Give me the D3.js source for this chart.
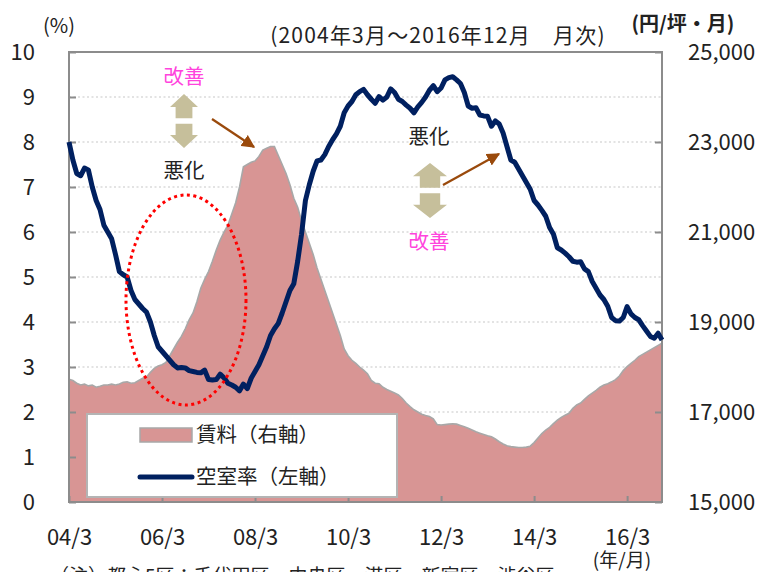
<!DOCTYPE html>
<html>
<head>
<meta charset="utf-8">
<script src="https://cdn.jsdelivr.net/npm/d3@7"></script>
<style>
  body { margin: 0; background: #fff; }
  text { font-family: "Noto Sans CJK JP", "Noto Sans", sans-serif; fill: #222; }
</style>
</head>
<body>
<div id="chart"></div>
<script>
// monthly, 2004/3 .. 2016/12 (index 0 = 2004/3)
const vacancy = [
  8.0, 7.6, 7.3, 7.25, 7.42, 7.38, 7.0, 6.7, 6.5, 6.15, 6.0, 5.85,
  5.5, 5.12, 5.05, 5.0, 4.7, 4.5, 4.4, 4.3, 4.22, 4.0, 3.7, 3.45,
  3.35, 3.25, 3.15, 3.05, 2.98, 2.99, 2.98, 2.92, 2.9, 2.88, 2.87, 2.93,
  2.72, 2.71, 2.72, 2.84, 2.76, 2.64, 2.6, 2.55, 2.47, 2.62, 2.52, 2.75,
  2.9, 3.05, 3.25, 3.45, 3.7, 3.85, 3.97, 4.2, 4.45, 4.7, 4.85, 5.35,
  5.95, 6.7, 7.05, 7.35, 7.58, 7.6, 7.72, 7.9, 8.05, 8.18, 8.35, 8.65,
  8.8, 8.9, 9.05, 9.12, 9.17, 9.05, 8.95, 8.86, 9.01, 8.93, 9.0, 9.18,
  9.1, 8.95, 8.9, 8.82, 8.75, 8.65, 8.78, 8.88, 9.0, 9.15, 9.25, 9.12,
  9.2, 9.38, 9.43, 9.45, 9.38, 9.3, 9.1, 8.8, 8.75, 8.76, 8.6, 8.58,
  8.57, 8.35, 8.47, 8.4, 8.2, 7.9, 7.6, 7.55, 7.4, 7.25, 7.1, 6.95,
  6.7, 6.6, 6.48, 6.35, 6.1, 5.95, 5.65, 5.6, 5.53, 5.45, 5.35, 5.33,
  5.34, 5.18, 5.12, 4.9, 4.75, 4.6, 4.5, 4.35, 4.1, 4.03, 4.02, 4.1,
  4.34, 4.18, 4.1, 4.05, 3.92, 3.8, 3.68, 3.64, 3.75, 3.6
];
const rent = [
  17730, 17700, 17640, 17600, 17620, 17580, 17600, 17550, 17570, 17600, 17600, 17620,
  17600, 17620, 17660, 17670, 17640, 17650, 17700, 17750, 17780, 17880, 17970, 18020,
  18050, 18100, 18250, 18400, 18550, 18680, 18850, 19050, 19200, 19450, 19750, 19950,
  20120, 20350, 20600, 20820, 21000, 21150, 21400, 21650, 22000, 22450, 22500, 22550,
  22580, 22680, 22820, 22860, 22900, 22900, 22700, 22500, 22300, 22050, 21750, 21550,
  21250, 21000, 20750, 20500, 20200, 19950, 19700, 19450, 19200, 18950, 18700, 18400,
  18250, 18150, 18080, 18000, 17930, 17850, 17700, 17640, 17630, 17550, 17500, 17460,
  17420, 17380, 17300, 17200, 17120, 17050, 17000, 16950, 16920, 16900, 16850, 16720,
  16710, 16720, 16730, 16740, 16730, 16700, 16670, 16640, 16600, 16560, 16530, 16500,
  16470, 16450, 16400, 16340, 16290, 16250, 16230, 16220, 16210, 16210, 16220, 16240,
  16320, 16420, 16520, 16600, 16660, 16740, 16820, 16880, 16930, 16970, 17080, 17160,
  17200, 17280, 17360, 17420, 17480, 17550, 17600, 17630, 17670, 17720, 17800, 17920,
  18010, 18080, 18150, 18230, 18280, 18330, 18380, 18430, 18480, 18530
];
const xTickLabels = ["04/3", "06/3", "08/3", "10/3", "12/3", "14/3", "16/3"];
const leftTicks = [0, 1, 2, 3, 4, 5, 6, 7, 8, 9, 10];
const rightTicks = [15000, 17000, 19000, 21000, 23000, 25000];

const W = 760, H = 572;
const plot = {left: 69, right: 662, top: 52, bottom: 502};

const svg = d3.select("#chart").append("svg")
  .attr("width", W).attr("height", H);

const x = d3.scaleLinear().domain([0, vacancy.length - 1]).range([plot.left, plot.right]);
const yL = d3.scaleLinear().domain([0, 10]).range([plot.bottom, plot.top]);
const yR = d3.scaleLinear().domain([15000, 25000]).range([plot.bottom, plot.top]);

// grid lines
svg.append("g").selectAll("line")
  .data(leftTicks.slice(1, -1))
  .join("line")
    .attr("x1", plot.left).attr("x2", plot.right)
    .attr("y1", d => yL(d)).attr("y2", d => yL(d))
    .attr("stroke", "#c8c8c8").attr("stroke-width", 1.2)
    .attr("stroke-dasharray", "2,2.5");

// rent area
const area = d3.area()
  .x((d, i) => x(i)).y0(plot.bottom).y1(d => yR(d));
svg.append("path").datum(rent)
  .attr("d", area).attr("fill", "#d89594");
svg.append("path").datum(rent)
  .attr("d", d3.line().x((d, i) => x(i)).y(d => yR(d)))
  .attr("fill", "none").attr("stroke", "#a8a8a8").attr("stroke-width", 1.6);

// axes
const axisColor = "#8c8c8c";
const gL = svg.append("g").attr("transform", `translate(${plot.left},0)`)
  .call(d3.axisLeft(yL).tickValues(leftTicks).tickSize(-7).tickPadding(34));
const gR = svg.append("g").attr("transform", `translate(${plot.right},0)`)
  .call(d3.axisRight(yR).tickValues(rightTicks).tickSize(-7).tickPadding(26)
    .tickFormat(d3.format(",")));
const gB = svg.append("g").attr("transform", `translate(0,${plot.bottom})`)
  .call(d3.axisBottom(x).tickValues(xTickLabels.map((d, i) => i * 24)).tickSize(-6).tickPadding(27)
    .tickFormat((d, i) => xTickLabels[i]));
[gL, gR, gB].forEach(g => {
  g.select(".domain").remove();
  g.selectAll(".tick line").attr("stroke", axisColor).attr("stroke-width", 2);
  g.selectAll(".tick text").attr("font-size", 22).attr("fill", "#222")
    .attr("font-family", "\"Noto Sans CJK JP\", sans-serif");
});

// frame
svg.append("rect")
  .attr("x", plot.left).attr("y", plot.top)
  .attr("width", plot.right - plot.left).attr("height", plot.bottom - plot.top)
  .attr("fill", "none").attr("stroke", axisColor).attr("stroke-width", 2);

// vacancy line
svg.append("path").datum(vacancy)
  .attr("d", d3.line().x((d, i) => x(i)).y(d => yL(d)))
  .attr("fill", "none").attr("stroke", "#002060").attr("stroke-width", 5)
  .attr("stroke-linejoin", "round");

// dotted ellipse
svg.append("ellipse")
  .attr("cx", 186).attr("cy", 300).attr("rx", 60).attr("ry", 105)
  .attr("fill", "none").attr("stroke", "#ff0000").attr("stroke-width", 3)
  .attr("stroke-dasharray", "3,3.5");

// annotations
const defs = svg.append("defs");
defs.append("marker").attr("id", "head")
  .attr("viewBox", "0 0 10 10").attr("refX", 9).attr("refY", 5)
  .attr("markerWidth", 6).attr("markerHeight", 6).attr("orient", "auto")
  .attr("markerUnits", "strokeWidth")
  .append("path").attr("d", "M0,0 L10,5 L0,10 Z").attr("fill", "#9a4a0c");

function updown(cx, top, w, h) {
  const hw = w / 2, sw = w * 0.3, hh = h * 0.24, gap = h * 0.1;
  const mid = top + h / 2;
  svg.append("path")
    .attr("d", `M${cx},${top} L${cx + hw},${top + hh} L${cx + sw},${top + hh} L${cx + sw},${mid - gap / 2}
      L${cx - sw},${mid - gap / 2} L${cx - sw},${top + hh} L${cx - hw},${top + hh} Z`)
    .attr("fill", "#c6bf9b");
  svg.append("path")
    .attr("d", `M${cx},${top + h} L${cx + hw},${top + h - hh} L${cx + sw},${top + h - hh} L${cx + sw},${mid + gap / 2}
      L${cx - sw},${mid + gap / 2} L${cx - sw},${top + h - hh} L${cx - hw},${top + h - hh} Z`)
    .attr("fill", "#c6bf9b");
}
function label(t, cx, cy, color) {
  svg.append("text").attr("x", cx).attr("y", cy).attr("dy", "0.35em")
    .attr("text-anchor", "middle").attr("font-size", 20.5)
    .style("fill", color).text(t);
}
function brown(x1, y1, x2, y2) {
  svg.append("line").attr("x1", x1).attr("y1", y1).attr("x2", x2).attr("y2", y2)
    .attr("stroke", "#9a4a0c").attr("stroke-width", 2.2).attr("marker-end", "url(#head)");
}
label("改善", 184, 77, "#ff44dd");
updown(184, 94, 28, 54);
label("悪化", 184, 171, "#222");
brown(212, 119, 254, 147);

label("悪化", 429, 137, "#222");
updown(430, 163, 34, 55);
label("改善", 429, 242, "#ff44dd");
brown(443, 185, 499, 154);

// legend
const lg = svg.append("g");
lg.append("rect").attr("x", 87).attr("y", 414).attr("width", 310).attr("height", 83)
  .attr("fill", "#fff").attr("stroke", "#b4b4b4").attr("stroke-width", 2);
lg.append("rect").attr("x", 140).attr("y", 428).attr("width", 52).attr("height", 14)
  .attr("fill", "#d89594").attr("stroke", "#a8a8a8").attr("stroke-width", 1.5);
lg.append("text").attr("x", 196).attr("y", 435).attr("dy", "0.35em")
  .attr("font-size", 20.5).text("賃料（右軸）");
lg.append("line").attr("x1", 140).attr("x2", 192).attr("y1", 477).attr("y2", 477)
  .attr("stroke", "#002060").attr("stroke-width", 5).attr("stroke-linecap", "round");
lg.append("text").attr("x", 196).attr("y", 477).attr("dy", "0.35em")
  .attr("font-size", 20.5).text("空室率（左軸）");

// titles
svg.append("text").attr("x", 59).attr("y", 26).attr("dy", "0.35em").attr("text-anchor", "middle")
  .attr("font-size", 20).text("(%)");
svg.append("text").attr("x", 438).attr("y", 36).attr("dy", "0.35em").attr("text-anchor", "middle")
  .attr("font-size", 21).attr("letter-spacing", 1.2).text("(2004年3月～2016年12月　月次)");
svg.append("text").attr("x", 683).attr("y", 24).attr("dy", "0.35em").attr("text-anchor", "middle")
  .attr("font-size", 20).attr("font-weight", "bold").text("(円/坪・月)");
svg.append("text").attr("x", 622).attr("y", 560).attr("dy", "0.35em").attr("text-anchor", "middle")
  .attr("font-size", 19).text("(年/月)");
svg.append("text").attr("x", 50).attr("y", 583)
  .attr("font-size", 19).text("（注）都心5区：千代田区、中央区、港区、新宿区、渋谷区");
</script>
</body>
</html>
